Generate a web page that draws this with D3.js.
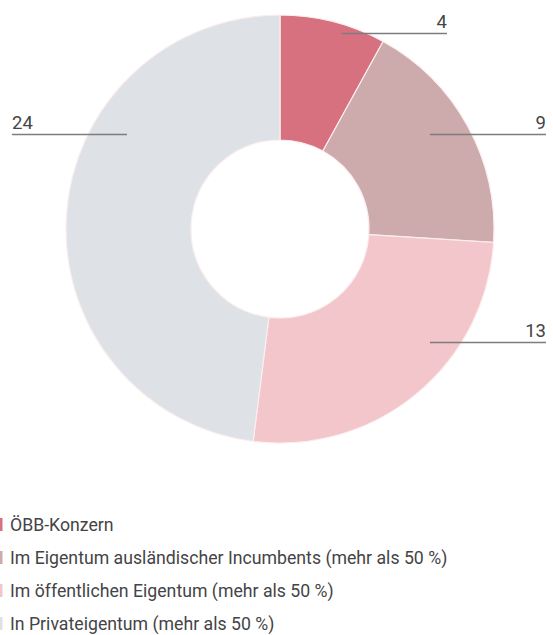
<!DOCTYPE html>
<html lang="de">
<head>
<meta charset="utf-8">
<script src="https://cdn.jsdelivr.net/npm/d3@7/dist/d3.min.js"></script>
<style>
  html, body { margin: 0; padding: 0; background: #ffffff; }
  svg { display: block; }
  text { font-family: Roboto, "Noto Sans", sans-serif; fill: #444446; }
</style>
</head>
<body>
<svg id="chart" width="553" height="635"></svg>
<script>
// Ownership categories and number of companies in each
const categories = [
  "ÖBB-Konzern",
  "Im Eigentum ausländischer Incumbents (mehr als 50 %)",
  "Im öffentlichen Eigentum (mehr als 50 %)",
  "In Privateigentum (mehr als 50 %)"
];
const values = [4, 9, 13, 24];
const colors = ["#d8717f", "#cdaaab", "#f2c6ca", "#dee1e5"];

// Leader line placement for each value label (layout only)
const labelLayout = [
  { y: 33.5, x0: 342, x1: 447, side: "right" },
  { y: 134.5, x0: 430, x1: 546, side: "right" },
  { y: 342.5, x0: 430, x1: 546, side: "right" },
  { y: 134.5, x0: 12, x1: 127, side: "left" }
];

const svg = d3.select("#chart");
const cx = 280, cy = 229, outerR = 214, innerR = 89;

const pie = d3.pie().sort(null).value(d => d)(values);
const arc = d3.arc().innerRadius(innerR).outerRadius(outerR);

const g = svg.append("g").attr("transform", `translate(${cx},${cy})`);
g.selectAll("path.slice")
  .data(pie)
  .join("path")
  .attr("class", "slice")
  .attr("d", arc)
  .attr("fill", (d, i) => colors[i])
  .attr("stroke", "#fbeeee")
  .attr("stroke-width", 1.2);

// Value labels with horizontal leader lines
const labels = svg.append("g");
labels.selectAll("line")
  .data(labelLayout)
  .join("line")
  .attr("x1", d => d.x0)
  .attr("x2", d => d.x1)
  .attr("y1", d => d.y)
  .attr("y2", d => d.y)
  .attr("stroke", "#7d7d80")
  .attr("stroke-width", 1.4);

labels.selectAll("text")
  .data(labelLayout)
  .join("text")
  .attr("x", d => d.side === "right" ? d.x1 : d.x0)
  .attr("y", d => d.y - 6)
  .attr("text-anchor", d => d.side === "right" ? "end" : "start")
  .attr("font-size", 18.5)
  .text((d, i) => values[i]);

// Legend
const legend = svg.append("g").attr("transform", "translate(0,531)");
const rowH = 33;
const rows = legend.selectAll("g")
  .data(categories)
  .join("g")
  .attr("transform", (d, i) => `translate(0,${i * rowH})`);

rows.append("rect")
  .attr("x", 0)
  .attr("y", -13)
  .attr("width", 2.5)
  .attr("height", 13)
  .attr("fill", (d, i) => colors[i]);

rows.append("text")
  .attr("x", 10)
  .attr("y", 0)
  .attr("font-size", 17.7)
  .text(d => d);
</script>
</body>
</html>
